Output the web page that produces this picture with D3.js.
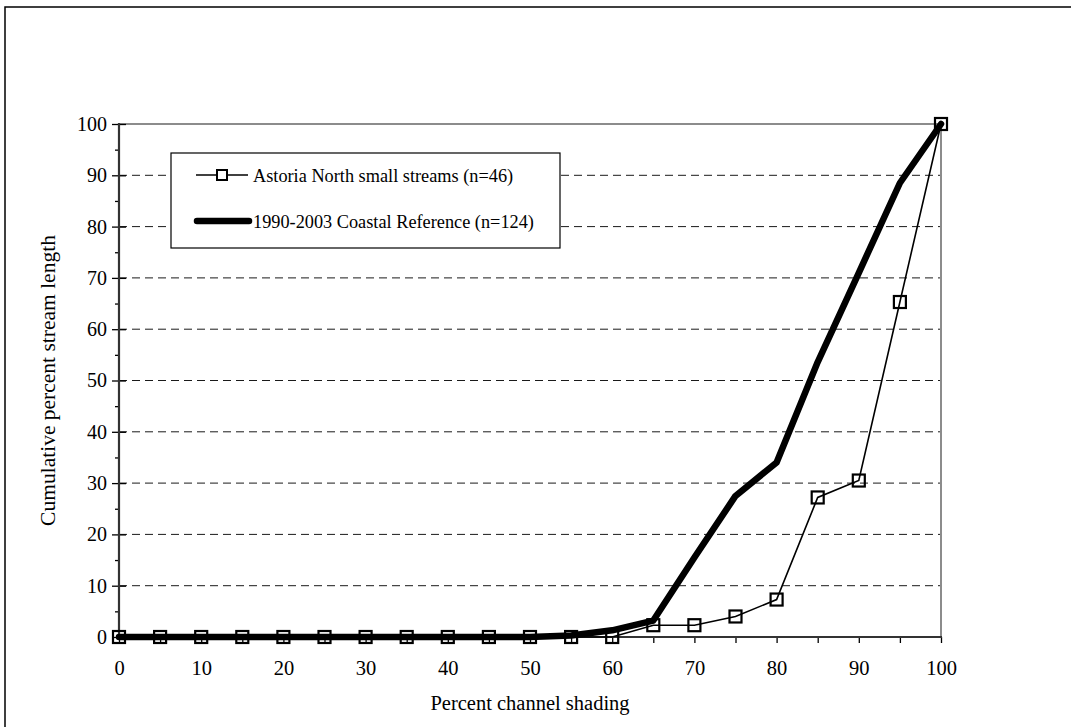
<!DOCTYPE html>
<html>
<head>
<meta charset="utf-8">
<script src="https://cdn.jsdelivr.net/npm/d3@7"></script>
<style>
  html, body { margin: 0; padding: 0; background: #fff; }
  svg { display: block; }
  text { font-family: "Liberation Serif", "Times New Roman", serif; fill: #000; }
</style>
</head>
<body>
<svg id="chart" width="1071" height="727"></svg>
<script>
// Percent channel shading classes (x) and cumulative percent of stream length (y)
const shadingClasses = [0, 5, 10, 15, 20, 25, 30, 35, 40, 45, 50, 55, 60, 65, 70, 75, 80, 85, 90, 95, 100];
const astoriaNorth = [0, 0, 0, 0, 0, 0, 0, 0, 0, 0, 0, 0, 0, 2.3, 2.3, 4.0, 7.3, 27.2, 30.5, 65.3, 100];
const coastalReference = [0, 0, 0, 0, 0, 0, 0, 0, 0, 0, 0, 0.3, 1.3, 3.2, 15.5, 27.5, 34, 53.6, 71, 88.5, 100];
const yTickValues = [0, 10, 20, 30, 40, 50, 60, 70, 80, 90, 100];
const xTickValues = [0, 10, 20, 30, 40, 50, 60, 70, 80, 90, 100];
const legendLabels = ["Astoria North small streams (n=46)", "1990-2003 Coastal Reference (n=124)"];

const svg = d3.select("#chart");
const plot = { left: 119, right: 941, top: 124, bottom: 637 };
const serif = "Liberation Serif, serif";

// outer frame
svg.append("rect")
  .attr("x", 5).attr("y", 7).attr("width", 1080).attr("height", 740)
  .attr("fill", "none").attr("stroke", "#000").attr("stroke-width", 1.5);

const x = d3.scaleLinear().domain([0, 100]).range([plot.left, plot.right]);
const y = d3.scaleLinear().domain([0, 100]).range([plot.bottom, plot.top]);

// dashed horizontal gridlines
svg.append("g").selectAll("line")
  .data(yTickValues.filter(v => v > 0 && v < 100))
  .join("line")
  .attr("x1", plot.left).attr("x2", plot.right)
  .attr("y1", d => y(d)).attr("y2", d => y(d))
  .attr("stroke", "#1a1a1a").attr("stroke-width", 1)
  .attr("stroke-dasharray", "8,5");

// gray top and right plot border
svg.append("path")
  .attr("d", `M${plot.left},${plot.top}H${plot.right}V${plot.bottom}`)
  .attr("fill", "none").attr("stroke", "#8c8c8c").attr("stroke-width", 2);

// y axis: major ticks cross the axis, minor ticks outside
const yMinor = svg.append("g").attr("transform", `translate(${plot.left},0)`);
yMinor.call(d3.axisLeft(y).tickValues(d3.range(5, 100, 10)).tickSize(4).tickFormat(""));
yMinor.select(".domain").remove();
const yMajor = svg.append("g").attr("transform", `translate(${plot.left},0)`);
yMajor.call(d3.axisLeft(y).tickValues(yTickValues).tickSize(7).tickPadding(6).tickFormat(d3.format("d")));
yMajor.selectAll(".tick line").attr("x2", -7).attr("x1", 7);
yMajor.select(".domain").remove();
svg.selectAll("g .tick line").attr("stroke", "#000").attr("stroke-width", 1.3);
yMajor.selectAll("text")
  .attr("font-size", 20).attr("font-family", serif).attr("x", -12);
svg.append("line")
  .attr("x1", plot.left).attr("x2", plot.left)
  .attr("y1", plot.top - 1).attr("y2", plot.bottom + 1)
  .attr("stroke", "#333").attr("stroke-width", 2.2);

// x axis
const xMinor = svg.append("g").attr("transform", `translate(0,${plot.bottom})`);
xMinor.call(d3.axisBottom(x).tickValues(d3.range(0, 101, 5)).tickSize(6).tickFormat(""));
xMinor.select(".domain").remove();
xMinor.selectAll(".tick line").attr("stroke", "#000").attr("stroke-width", 1.3);
const xMajor = svg.append("g").attr("transform", `translate(0,${plot.bottom})`);
xMajor.call(d3.axisBottom(x).tickValues(xTickValues).tickSize(0).tickPadding(23).tickFormat(d3.format("d")));
xMajor.select(".domain").remove();
xMajor.selectAll("text").attr("font-size", 20.5).attr("font-family", serif);
svg.append("line")
  .attr("x1", plot.left - 1).attr("x2", plot.right + 1)
  .attr("y1", plot.bottom).attr("y2", plot.bottom)
  .attr("stroke", "#333").attr("stroke-width", 2.2);

// axis titles
svg.append("text")
  .attr("x", 530).attr("y", 710)
  .attr("text-anchor", "middle").attr("font-size", 20.5)
  .text("Percent channel shading");
svg.append("text")
  .attr("transform", `translate(55,${(plot.top + plot.bottom) / 2}) rotate(-90)`)
  .attr("text-anchor", "middle").attr("font-size", 21.5)
  .text("Cumulative percent stream length");

const line = d3.line().x((d, i) => x(shadingClasses[i])).y(d => y(d));
const sq = 12;

// Astoria North: thin line with open square markers
svg.append("path")
  .datum(astoriaNorth)
  .attr("d", line)
  .attr("fill", "none").attr("stroke", "#000").attr("stroke-width", 1.6);
svg.append("g").selectAll("rect")
  .data(astoriaNorth)
  .join("rect")
  .attr("x", (d, i) => x(shadingClasses[i]) - sq / 2)
  .attr("y", d => y(d) - sq / 2)
  .attr("width", sq).attr("height", sq)
  .attr("fill", "none").attr("stroke", "#000").attr("stroke-width", 2.2);

// Coastal reference: heavy line
svg.append("path")
  .datum(coastalReference)
  .attr("d", line)
  .attr("fill", "none").attr("stroke", "#000").attr("stroke-width", 6.5)
  .attr("stroke-linejoin", "round").attr("stroke-linecap", "round");

// legend
const lg = svg.append("g");
lg.append("rect")
  .attr("x", 171).attr("y", 153).attr("width", 389).attr("height", 95)
  .attr("fill", "#fff").attr("stroke", "#000").attr("stroke-width", 1.2);
lg.append("line")
  .attr("x1", 196).attr("x2", 248).attr("y1", 175).attr("y2", 175)
  .attr("stroke", "#000").attr("stroke-width", 1.6);
lg.append("rect")
  .attr("x", 222 - 5).attr("y", 175 - 5).attr("width", 10).attr("height", 10)
  .attr("fill", "#fff").attr("stroke", "#000").attr("stroke-width", 2);
lg.append("line")
  .attr("x1", 197).attr("x2", 249).attr("y1", 221).attr("y2", 221)
  .attr("stroke", "#000").attr("stroke-width", 6.5).attr("stroke-linecap", "round");
lg.selectAll("text")
  .data(legendLabels)
  .join("text")
  .attr("x", 253).attr("y", (d, i) => 182 + i * 46)
  .attr("font-size", 18.3)
  .text(d => d);
</script>
</body>
</html>
